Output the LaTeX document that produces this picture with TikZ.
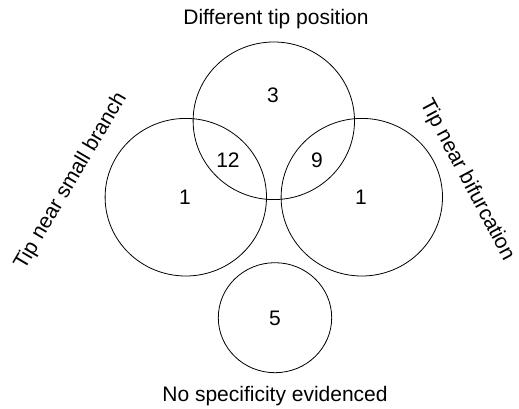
\documentclass[tikz,border=0pt]{standalone}
\usepackage{fontspec}
\setmainfont{Liberation Sans}
\usetikzlibrary{shapes.geometric}
\begin{document}
\begin{tikzpicture}[x=1pt,y=-1pt,
  setc/.style={draw, ellipse, line width=0.8pt, inner sep=0pt},
  big/.style={setc, minimum width=161.4pt, minimum height=157.6pt},
  small/.style={setc, minimum width=113.4pt, minimum height=110pt},
  num/.style={font=\fontsize{21}{25}\selectfont, inner sep=0pt},
  lab/.style={font=\fontsize{21}{25}\selectfont, inner sep=0pt}]
\useasboundingbox (0,0) rectangle (519,409);
\node[big] (top) at (273.8,120.8) {};
\node[big] (left) at (185.8,197.2) {};
\node[big] (right) at (361.8,197.2) {};
\node[small] (bottom) at (275,317.7) {};
\node[num] (n3) at (273,95) {3};
\node[num] (n12) at (228,160) {12};
\node[num] (n9) at (317,160) {9};
\node[num] (n1l) at (185,197) {1};
\node[num] (n1r) at (361,197) {1};
\node[num] (n5) at (275,318) {5};
\node[lab] (ltop) at (276,19) {Different tip position};
\node[lab] (lbot) at (275,396) {No specificity evidenced};
\node[lab, rotate=59.5] (lleft) at (71,181) {Tip near small branch};
\node[lab, rotate=-62] (lright) at (467,180) {Tip near bifurcation};
\end{tikzpicture}
\end{document}
